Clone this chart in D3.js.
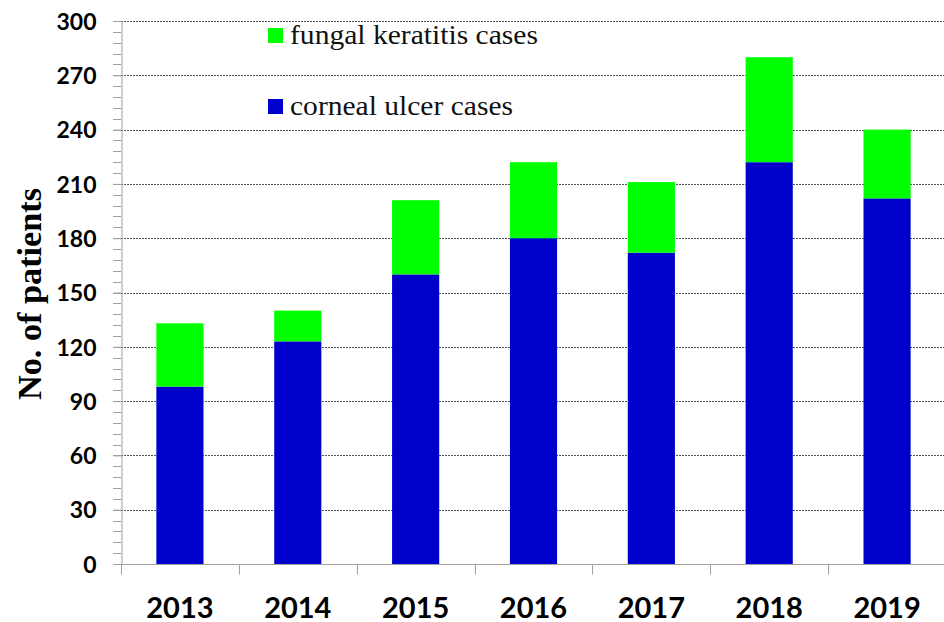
<!DOCTYPE html>
<html lang="en">
<head>
  <meta charset="UTF-8" />
  <title>Corneal ulcer and fungal keratitis cases</title>
  <style>
    body {
      margin: 0;
      padding: 0;
      background: #fff;
    }
    svg {
      display: block;
    }
    .ytick text {
      font-family: Lato, "Open Sans", sans-serif;
      font-weight: bold;
      font-size: 23px;
      fill: #000;
    }
    .xtick text {
      font-family: Lato, "Open Sans", sans-serif;
      font-weight: bold;
      font-size: 29px;
      fill: #000;
    }
    .legendText {
      font-family: "Liberation Serif", "DejaVu Serif", serif;
      font-size: 28px;
      fill: #111;
    }
    .ytitle {
      font-family: "Liberation Serif", "DejaVu Serif", serif;
      font-weight: bold;
      font-size: 34px;
      fill: #000;
    }
  </style>
</head>
<body>
<svg id="chart" width="944" height="622"></svg>

<script src="https://d3js.org/d3.v7.min.js"></script>
<script>
  // data
  const years = ["2013", "2014", "2015", "2016", "2017", "2018", "2019"];
  const cornealUlcer = [98, 123, 160, 180, 172, 222, 202];
  const totalCases = [133, 140, 201, 222, 211, 280, 240];
  const yTicks = [0, 30, 60, 90, 120, 150, 180, 210, 240, 270, 300];
  const legendLabels = ["fungal keratitis cases", "corneal ulcer cases"];

  const green = "#00ff00";
  const blue = "#0000cc";
  const axisGrey = "#a0a0a0";

  const svg = d3.select("#chart");
  const plotLeft = 121, plotRight = 946, plotTop = 21, plotBottom = 564;

  const x = d3.scaleBand().domain(years).range([plotLeft, plotRight]).padding(0);
  const y = d3.scaleLinear().domain([0, 300]).range([plotBottom, plotTop]);
  const barW = x.bandwidth() * 0.4;

  // dotted gridlines
  svg.append("g")
    .selectAll("line")
    .data(yTicks.filter(d => d > 0))
    .enter().append("line")
    .attr("x1", plotLeft).attr("x2", 944)
    .attr("y1", d => Math.round(y(d)) + 0.5)
    .attr("y2", d => Math.round(y(d)) + 0.5)
    .attr("stroke", "#555")
    .attr("stroke-width", 1)
    .attr("stroke-dasharray", "2,1");

  // minor ticks every 6 patients
  svg.append("g")
    .selectAll("line")
    .data(d3.range(0, 301, 6))
    .enter().append("line")
    .attr("x1", plotLeft - 8).attr("x2", plotLeft)
    .attr("y1", d => Math.round(y(d)) + 0.5)
    .attr("y2", d => Math.round(y(d)) + 0.5)
    .attr("stroke", axisGrey);

  // stacked bars: corneal ulcer at the bottom, fungal keratitis on top
  const bars = svg.append("g");
  bars.selectAll(".ulcer")
    .data(years)
    .enter().append("rect")
    .attr("class", "ulcer")
    .attr("x", d => x(d) + (x.bandwidth() - barW) / 2)
    .attr("width", barW)
    .attr("y", (d, i) => y(cornealUlcer[i]))
    .attr("height", (d, i) => y(0) - y(cornealUlcer[i]))
    .attr("fill", blue);

  bars.selectAll(".fungal")
    .data(years)
    .enter().append("rect")
    .attr("class", "fungal")
    .attr("x", d => x(d) + (x.bandwidth() - barW) / 2)
    .attr("width", barW)
    .attr("y", (d, i) => y(totalCases[i]))
    .attr("height", (d, i) => y(cornealUlcer[i]) - y(totalCases[i]))
    .attr("fill", green);

  // y axis
  const yAxis = svg.append("g")
    .attr("transform", `translate(${plotLeft + 0.5},0)`)
    .call(d3.axisLeft(y).tickValues(yTicks).tickSize(8).tickPadding(17));
  yAxis.select(".domain").attr("stroke", axisGrey);
  yAxis.selectAll(".tick line").attr("stroke", axisGrey);
  yAxis.selectAll(".tick").attr("class", "tick ytick");
  yAxis.attr("font-family", null).attr("font-size", null);
  yAxis.selectAll("text").attr("dy", "0.36em");

  // x axis: tick marks on category boundaries
  const xAxisG = svg.append("g").attr("transform", `translate(0,${plotBottom + 0.5})`);
  xAxisG.append("line")
    .attr("x1", plotLeft).attr("x2", 944)
    .attr("stroke", axisGrey);
  xAxisG.selectAll(".bound")
    .data(years)
    .enter().append("line")
    .attr("class", "bound")
    .attr("x1", d => Math.round(x(d)) + 0.5)
    .attr("x2", d => Math.round(x(d)) + 0.5)
    .attr("y1", 0).attr("y2", 10)
    .attr("stroke", axisGrey);
  xAxisG.selectAll(".xtick")
    .data(years)
    .enter().append("g")
    .attr("class", "xtick")
    .append("text")
    .attr("x", d => x(d) + x.bandwidth() / 2)
    .attr("y", 53)
    .attr("text-anchor", "middle")
    .text(d => d);

  // y axis title
  svg.append("text")
    .attr("class", "ytitle")
    .attr("transform", "translate(41,294) rotate(-90)")
    .attr("text-anchor", "middle")
    .attr("textLength", 212)
    .attr("lengthAdjust", "spacingAndGlyphs")
    .text("No. of patients");

  // legend
  const legend = svg.append("g");
  const legendColors = [green, blue];
  const legendY = [44, 115];
  const legendW = [248, 223];
  legendLabels.forEach((lab, i) => {
    legend.append("rect")
      .attr("x", 268).attr("y", legendY[i] - 16)
      .attr("width", 15).attr("height", 15)
      .attr("fill", legendColors[i]);
    legend.append("text")
      .attr("class", "legendText")
      .attr("x", 290).attr("y", legendY[i])
      .attr("textLength", legendW[i])
      .attr("lengthAdjust", "spacingAndGlyphs")
      .text(lab);
  });
</script>
</body>
</html>
